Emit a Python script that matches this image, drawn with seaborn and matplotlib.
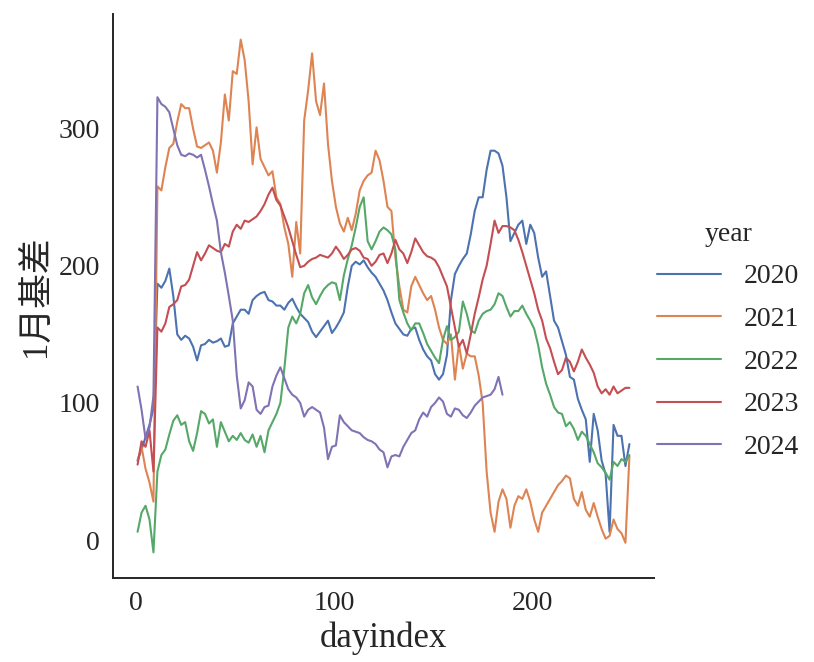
import matplotlib
matplotlib.use("Agg")
import matplotlib.pyplot as plt
import pandas as pd
import seaborn as sns

days_full = list(range(1, 250, 2))
days_2024 = list(range(1, 186, 2))

years = ["2020", "2021", "2022", "2023", "2024"]

v2020 = [58, 66, 75, 84, 96, 187, 184, 189, 198, 178,
         150, 146, 149, 147, 141, 131, 142, 143, 146, 144,
         145, 147, 141, 142, 158, 163, 168, 168, 165, 175,
         178, 180, 181, 175, 174, 171, 171, 168, 173, 176,
         170, 165, 162, 159, 152, 148, 152, 156, 160, 151,
         155, 160, 166, 185, 200, 203, 201, 204, 199, 195,
         192, 187, 182, 175, 166, 158, 154, 150, 149, 154,
         155, 146, 139, 134, 131, 121, 117, 121, 135, 175,
         194, 200, 205, 209, 223, 240, 250, 250, 270, 284,
         284, 282, 273, 250, 218, 224, 230, 233, 216, 230,
         224, 206, 192, 196, 178, 160, 155, 145, 135, 119,
         117, 103, 95, 88, 57, 92, 80, 58, 48, 6,
         84, 76, 76, 54, 70]

v2021 = [58, 68, 52, 42, 28, 258, 255, 272, 286, 289,
         305, 318, 315, 315, 300, 287, 286, 288, 290, 284,
         268, 290, 325, 306, 342, 340, 365, 350, 320, 274,
         301, 278, 272, 266, 269, 250, 245, 228, 216, 192,
         232, 209, 306, 328, 355, 320, 310, 333, 289, 262,
         243, 231, 225, 235, 226, 238, 255, 262, 266, 268,
         284, 277, 262, 243, 240, 206, 185, 168, 166, 185,
         192, 186, 180, 175, 178, 168, 155, 146, 143, 150,
         117, 143, 125, 136, 134, 134, 120, 100, 50, 20,
         6, 28, 37, 30, 9, 25, 32, 30, 37, 28,
         15, 6, 20, 25, 30, 35, 40, 43, 47, 45,
         30, 25, 35, 22, 17, 27, 17, 8, 1, 3,
         15, 8, 5, -2, 61]

v2022 = [6, 20, 25, 15, -9, 50, 62, 66, 77, 87,
         91, 84, 86, 72, 65, 78, 94, 92, 85, 88,
         68, 86, 79, 72, 76, 73, 78, 73, 71, 77,
         68, 76, 64, 80, 86, 92, 100, 125, 155, 163,
         158, 165, 180, 186, 177, 172, 178, 183, 186, 188,
         187, 175, 193, 205, 215, 228, 243, 250, 218, 212,
         218, 225, 228, 226, 223, 212, 175, 166, 158, 153,
         158, 158, 151, 143, 138, 133, 129, 146, 156, 146,
         148, 152, 174, 165, 153, 151, 160, 165, 167, 168,
         172, 180, 178, 170, 163, 167, 167, 171, 165, 160,
         154, 142, 126, 114, 106, 97, 93, 92, 83, 86,
         81, 73, 79, 76, 70, 64, 56, 53, 49, 44,
         57, 54, 59, 57, 62]

v2023 = [55, 72, 68, 80, 50, 155, 152, 158, 170, 172,
         175, 185, 186, 190, 200, 210, 204, 209, 215, 213,
         211, 210, 216, 214, 225, 230, 227, 233, 232, 234,
         236, 240, 245, 252, 257, 248, 244, 236, 228, 218,
         208, 199, 200, 203, 205, 206, 208, 207, 206, 209,
         214, 210, 205, 208, 212, 213, 211, 206, 205, 200,
         203, 208, 209, 202, 209, 219, 212, 209, 202, 210,
         220, 215, 210, 207, 206, 204, 199, 192, 185, 170,
         155, 141, 146, 136, 150, 165, 177, 190, 200, 216,
         233, 224, 229, 229, 228, 226, 219, 210, 200, 190,
         180, 168, 160, 147, 140, 130, 121, 124, 133, 130,
         123, 130, 139, 133, 128, 122, 112, 107, 110, 106,
         112, 107, 109, 111, 111]

v2024 = [112, 95, 74, 82, 105, 323, 318, 316, 312, 300,
         288, 281, 280, 282, 281, 279, 281, 270, 258, 245,
         233, 210, 195, 178, 160, 120, 96, 102, 115, 112,
         95, 92, 97, 98, 112, 120, 126, 118, 110, 106,
         104, 100, 90, 95, 97, 95, 93, 82, 59, 68,
         69, 91, 86, 83, 80, 79, 78, 75, 73, 72,
         70, 66, 64, 53, 61, 62, 61, 68, 73, 78,
         80, 88, 93, 90, 97, 100, 104, 101, 92, 90,
         96, 95, 91, 89, 93, 98, 101, 104, 105, 106,
         110, 119, 106]

series_days = [days_full, days_full, days_full, days_full, days_2024]
series_vals = [v2020, v2021, v2022, v2023, v2024]

frames = []
for yr, d, v in zip(years, series_days, series_vals):
    frames.append(pd.DataFrame({"dayindex": d, "1月基差": v, "year": yr}))
df = pd.concat(frames, ignore_index=True)

sns.set_theme(style="white", palette="deep")
plt.rcParams["font.family"] = ["Liberation Serif", "Noto Sans CJK SC", "DejaVu Sans"]
plt.rcParams["xtick.labelsize"] = 20
plt.rcParams["ytick.labelsize"] = 20
plt.rcParams["axes.labelsize"] = 25
plt.rcParams["legend.fontsize"] = 20
plt.rcParams["legend.title_fontsize"] = 20
plt.rcParams["axes.unicode_minus"] = False

g = sns.relplot(data=df, x="dayindex", y="1月基差", hue="year",
                kind="line", linewidth=1.5, palette="deep")
fig = g.figure
fig.set_size_inches(8.14, 6.62)
fig.subplots_adjust(left=113 / 814, right=654 / 814,
                    bottom=(662 - 578) / 662, top=(662 - 14) / 662)
ax = g.ax
ax.set_yticks([0, 100, 200, 300])
ax.set_xticks([0, 100, 200])
for sp in ["left", "bottom"]:
    ax.spines[sp].set_color("#262626")
    ax.spines[sp].set_linewidth(1.4)

sns.move_legend(g, "center left", bbox_to_anchor=(0.777, 0.485),
                frameon=False, handlelength=2.3, handletextpad=0.8,
                labelspacing=0.62)

fig.savefig("out.png", dpi=100)
